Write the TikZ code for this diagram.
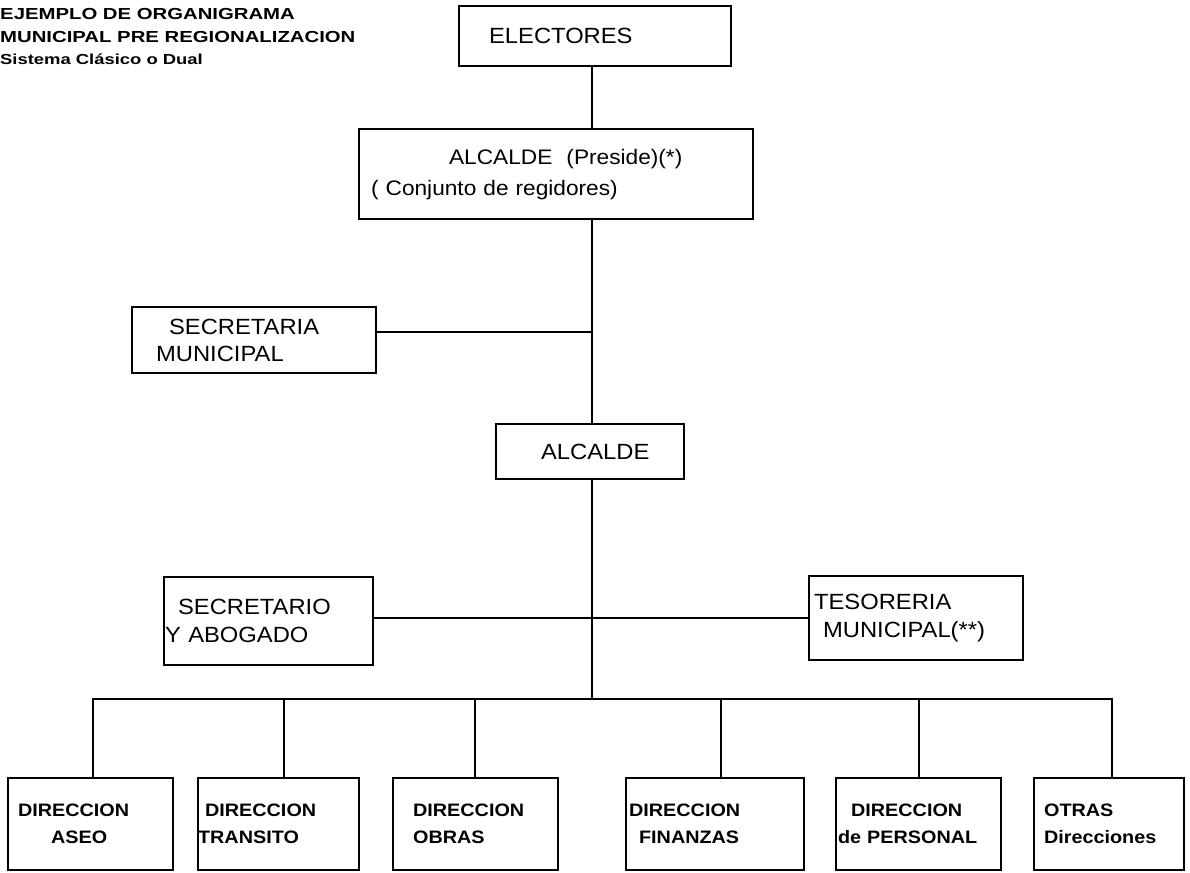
\documentclass[tikz,border=0pt]{standalone}
\usepackage{fontspec}
\setmainfont{Liberation Sans}
\newfontfamily\anchafont[FakeStretch=1.08]{Liberation Sans}
\newfontfamily\dirfont[FakeStretch=1.1]{Liberation Sans}
\newfontfamily\titfont[FakeStretch=1.27]{Liberation Sans}

\begin{document}
\begin{tikzpicture}[
  x=1pt, y=-1pt,
  caja/.style={draw, line width=2.2pt, anchor=north west, inner sep=0pt,
    align=left, font=\anchafont\fontsize{22}{28}\selectfont},
  dir/.style={caja, minimum height=92pt,
    font=\dirfont\bfseries\fontsize{18}{27}\selectfont},
  linea/.style={line width=1.3pt},
]
\useasboundingbox (0,0) rectangle (1190,872);

% titulo (arriba a la izquierda)
\node[anchor=north west, align=left, inner sep=0pt,
  font=\titfont\bfseries\fontsize{16}{22.5}\selectfont] (titulo) at (0,8.5)
  {EJEMPLO DE ORGANIGRAMA\\MUNICIPAL PRE REGIONALIZACION\\
   {\fontsize{14.5}{22.5}\selectfont Sistema Clásico o Dual}};

% niveles superiores
\node[caja, text width=272pt, minimum height=60pt] (electores) at (458,5)
  {\hspace*{30pt}ELECTORES};
\node[caja, text width=394pt, minimum height=90pt,
  font=\anchafont\fontsize{21}{31}\selectfont] (preside) at (358,128)
  {\hspace*{90pt}ALCALDE\ \ (Preside)(*)\\\hspace*{12pt}( Conjunto de regidores)};
\node[caja, text width=244pt, minimum height=66pt,
  font=\anchafont\fontsize{22}{27}\selectfont] (secretaria) at (131,306)
  {\hspace*{37pt}SECRETARIA\\\hspace*{24pt}MUNICIPAL};
\node[caja, text width=188pt, minimum height=55pt] (alcalde) at (495,423)
  {\hspace*{45pt}ALCALDE};
\node[caja, text width=209pt, minimum height=88pt] (secretario) at (163,576)
  {\hspace*{14pt}SECRETARIO\\\hspace*{1pt}Y ABOGADO};
\node[caja, text width=214pt, minimum height=84pt] (tesoreria) at (808,575)
  {\hspace*{5pt}TESORERIA\\\hspace*{14pt}MUNICIPAL(**)};

% direcciones
\node[dir, text width=165pt] (aseo) at (7,777)
  {\hspace*{10pt}DIRECCION\\\hspace*{43pt}ASEO};
\node[dir, text width=161pt] (transito) at (197,777)
  {\hspace*{7pt}DIRECCION\\TRANSITO};
\node[dir, text width=165pt] (obras) at (392,777)
  {\hspace*{20pt}DIRECCION\\\hspace*{20pt}OBRAS};
\node[dir, text width=178pt] (finanzas) at (625,777)
  {\hspace*{3pt}DIRECCION\\\hspace*{13pt}FINANZAS};
\node[dir, text width=165pt] (personal) at (835,777)
  {\hspace*{15pt}DIRECCION\\\hspace*{2pt}de PERSONAL};
\node[dir, text width=150pt] (otras) at (1033,777)
  {\hspace*{10pt}OTRAS\\\hspace*{10pt}Direcciones};

% lineas
\coordinate (eje) at (592,0);
\coordinate (ramalA) at (592,332);
\coordinate (ramalB) at (592,618);
\coordinate (bus) at (592,699);
\draw[linea] (electores.south -| eje) -- (preside.north -| eje);
\draw[linea] (preside.south -| eje) -- (alcalde.north -| eje);
\draw[linea] (secretaria.east |- ramalA) -- (ramalA);
\draw[linea] (alcalde.south -| eje) -- (bus);
\draw[linea] (secretario.east |- ramalB) -- (tesoreria.west |- ramalB);
\foreach \n/\x in {aseo/93, transito/284, obras/475, finanzas/721,
    personal/919, otras/1112}
  \draw[linea] (\n.north -| \x,0) |- (bus);
\end{tikzpicture}
\end{document}
